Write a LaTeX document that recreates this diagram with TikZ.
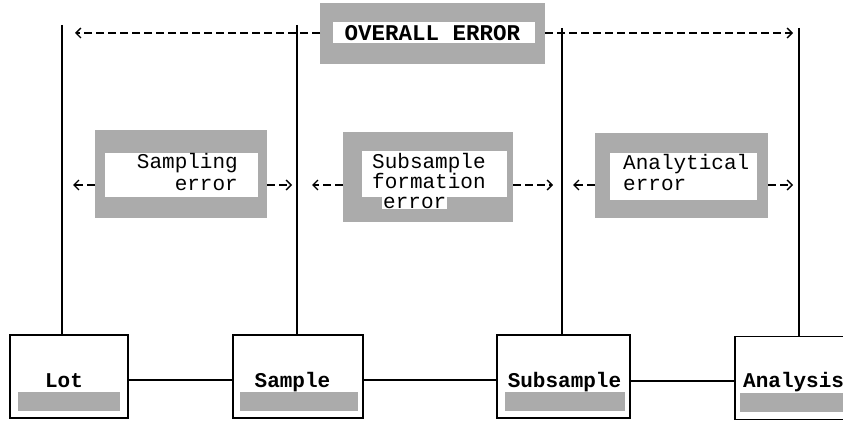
\documentclass[tikz,border=0pt]{standalone}
\usepackage{fontspec}
\setmonofont{Liberation Mono}
\usetikzlibrary{arrows.meta}
\tikzset{
  shadebox/.style={fill=black!33, draw=none, inner sep=0pt, outer sep=0pt, rectangle},
  hole/.style={fill=white, draw=none, inner sep=0pt, outer sep=0pt, rectangle},
  stagebox/.style={draw, line width=1.6pt, fill=white, inner sep=0pt, outer sep=0pt, rectangle},
  lbl/.style={font=\ttfamily\fontsize{21}{22}\selectfont, inner sep=0pt},
  boldlbl/.style={font=\ttfamily\bfseries\fontsize{21}{22}\selectfont, inner sep=0pt},
  bigbold/.style={font=\ttfamily\bfseries\fontsize{22.5}{24}\selectfont, inner sep=0pt},
  conn/.style={line width=1.6pt},
  vline/.style={line width=1.8pt},
  tipline/.style={line width=1.3pt, dash pattern=on 8pt off 4pt,
    -{Straight Barb[length=5pt,width=10pt,line width=1.3pt]}},
}
\begin{document}
\begin{tikzpicture}[x=1pt,y=-1pt]
\useasboundingbox (0,0) rectangle (843,425);
\clip (0,0) rectangle (843,425);

% ---- stage boxes ----
\node[stagebox, minimum width=118pt, minimum height=83pt] (lot) at (69,376.5) {};
\node[stagebox, minimum width=130pt, minimum height=83pt] (sample) at (298,376.5) {};
\node[stagebox, minimum width=133pt, minimum height=83pt] (subsample) at (563.5,376.5) {};
\node[stagebox, minimum width=140pt, minimum height=83pt, anchor=west] (analysis) at (735,378) {};

% shaded bands
\node[shadebox, minimum width=102pt, minimum height=19pt] (lotband) at (69,401.5) {};
\node[shadebox, minimum width=118pt, minimum height=19pt] (sampleband) at (299,401.5) {};
\node[shadebox, minimum width=120pt, minimum height=19pt] (subband) at (565,401.5) {};
\node[shadebox, minimum width=120pt, minimum height=19pt, anchor=west] (anaband) at (740,402) {};

% labels
\node[boldlbl, anchor=base] (lotlbl) at (64,387) {Lot};
\node[boldlbl, anchor=base] (samplelbl) at (292.5,387) {Sample};
\node[boldlbl, anchor=base] (sublbl) at (564.5,387) {Subsample};
\node[boldlbl, anchor=base west] (analbl) at (743,387) {Analysis};

% connectors between stages
\draw[conn] (lot.east |- 0,380) -- (sample.west |- 0,380);
\draw[conn] (sample.east |- 0,380) -- (subsample.west |- 0,380);
\draw[conn] (subsample.east |- 0,381) -- (analysis.west |- 0,381);

% vertical lines
\coordinate (t1) at (62,25);
\coordinate (t2) at (297,25);
\coordinate (t3) at (562,28);
\coordinate (t4) at (799,28);
\draw[vline] (t1) -- (t1 |- lot.north);
\draw[vline] (t2) -- (t2 |- sample.north);
\draw[vline] (t3) -- (t3 |- subsample.north);
\draw[vline] (t4) -- (t4 |- analysis.north);

% ---- overall error ----
\node[shadebox, minimum width=225pt, minimum height=61pt] (overall) at (432.5,33.5) {};
\node[hole, minimum width=202pt, minimum height=21pt] (overallhole) at (434,32.5) {};
\node[bigbold, anchor=base] (overalllbl) at (432.5,41) {OVERALL ERROR};
\coordinate (oL) at (75,33);
\coordinate (oR) at (793,33);
\draw[tipline] (overall.west |- oL) -- (oL);
\draw[tipline] (overall.east |- oR) -- (oR);

% ---- sampling error ----
\node[shadebox, minimum width=172pt, minimum height=88pt] (samperr) at (181,174) {};
\node[hole, minimum width=153pt, minimum height=44pt] (samphole) at (181.5,175) {};
\node[lbl, anchor=base east] (samp1) at (238,168) {Sampling};
\node[lbl, anchor=base east] (samp2) at (238,190) {error};
\coordinate (sL) at (73,185);
\coordinate (sR) at (292,185);
\draw[tipline] (samperr.west |- sL) -- (sL);
\draw[tipline] (samperr.east |- sR) -- (sR);

% ---- subsample formation error ----
\node[shadebox, minimum width=170pt, minimum height=90pt] (suberr) at (428,177) {};
\node[hole, minimum width=145pt, minimum height=46pt] (subhole) at (434.5,174) {};
\node[lbl, anchor=base west] (sub1) at (372,168) {Subsample};
\node[lbl, anchor=base west] (sub2) at (372,188) {formation};
\node[lbl, anchor=base west, fill=white, inner sep=1pt] (sub3) at (382,208) {error};
\coordinate (fL) at (312,185);
\coordinate (fR) at (553,185);
\draw[tipline] (suberr.west |- fL) -- (fL);
\draw[tipline] (suberr.east |- fR) -- (fR);

% ---- analytical error ----
\node[shadebox, minimum width=173pt, minimum height=85pt] (anaerr) at (681.5,175.5) {};
\node[hole, minimum width=147pt, minimum height=47pt] (anahole) at (683.5,176.5) {};
\node[lbl, anchor=base west] (ana1) at (623,169) {Analytical};
\node[lbl, anchor=base west] (ana2) at (623,190) {error};
\coordinate (aL) at (573,185);
\coordinate (aR) at (793,185);
\draw[tipline] (anaerr.west |- aL) -- (aL);
\draw[tipline] (anaerr.east |- aR) -- (aR);
\end{tikzpicture}
\end{document}
